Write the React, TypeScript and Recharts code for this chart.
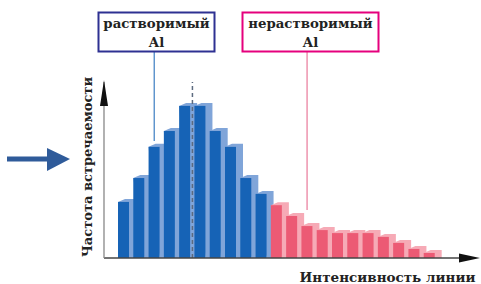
import { BarChart, Bar, XAxis, YAxis, ReferenceLine } from 'recharts';

// intensity bins along the x axis
const bins = ['1', '2', '3', '4', '5', '6', '7', '8', '9', '10', '11', '12', '13', '14', '15', '16', '17', '18', '19', '20', '21'];

// frequency of occurrence, soluble Al (blue) and insoluble Al (pink)
const soluble = [22.3, 31.8, 44.2, 50.5, 60.5, 60.5, 50.5, 44.2, 31.8, 25.5, null, null, null, null, null, null, null, null, null, null, null];
const insoluble = [null, null, null, null, null, null, null, null, null, null, 21, 16.7, 12.7, 11.1, 9.9, 9.9, 9.9, 8.4, 6, 3.6, 2];

const yAxisTitle = 'Частота встречаемости';
const xAxisTitle = 'Интенсивность линии';
const solubleLabel = ['растворимый', 'Al'];
const insolubleLabel = ['нерастворимый', 'Al'];

const data = bins.map((bin, i) => ({ bin, soluble: soluble[i], insoluble: insoluble[i] }));

const SERIF = '"DejaVu Serif", "Liberation Serif", serif';

// bar with a lighter "depth" face behind it
function boxBar(front: string, back: string) {
  return (props: any) => {
    const { x, y, width, height } = props;
    if (!height || height <= 0) return <g />;
    const dx = 7;
    const dy = 3;
    const d = `M${x},${y} L${x + dx},${y - dy} L${x + width + dx},${y - dy} L${x + width + dx},${y + height} L${x + width},${y + height} Z`;
    return (
      <g>
        <path d={d} fill={back} />
        <rect x={x} y={y} width={width} height={height} fill={front} />
      </g>
    );
  };
}

export default function App() {
  return (
    <div style={{ position: 'absolute', left: 0, top: 0, width: 481, height: 284, background: '#fff' }}>
      <BarChart
        width={481}
        height={284}
        data={data}
        margin={{ top: 82, right: 11, bottom: 24, left: 102 }}
        barSize={11}
      >
        <XAxis
          dataKey="bin"
          height={2}
          tick={false}
          tickLine={false}
          axisLine={{ stroke: '#444', strokeWidth: 1.3 }}
          padding={{ left: 12, right: 33 }}
        />
        <YAxis
          width={2}
          domain={[0, 70]}
          tick={false}
          tickLine={false}
          axisLine={{ stroke: '#888', strokeWidth: 1.3 }}
        />
        <Bar dataKey="soluble" stackId="a" shape={boxBar('#1663b6', '#80a5d9')} isAnimationActive={false} />
        <Bar dataKey="insoluble" stackId="a" shape={boxBar('#ec5a74', '#f6aab6')} isAnimationActive={false} />
        <ReferenceLine x="6" position="start" stroke="#5d6b80" strokeDasharray="4 3" strokeWidth={1.5} ifOverflow="visible" />
        <ReferenceLine
          segment={[{ x: '3', y: 46.5 }, { x: '3', y: 81.9 }]}
          stroke="#3b7dc2"
          strokeWidth={1.2}
          ifOverflow="visible"
        />
        <ReferenceLine
          segment={[{ x: '13', y: 19.1 }, { x: '13', y: 81.9 }]}
          stroke="#e9789a"
          strokeWidth={1.2}
          ifOverflow="visible"
        />
      </BarChart>
      <svg
        width={481}
        height={284}
        style={{ position: 'absolute', left: 0, top: 0, pointerEvents: 'none' }}
      >
        {/* axis arrowheads */}
        <polygon points="104,80 100,106 108,106" fill="#111" />
        <polygon points="480,258 459,253.5 459,262.5" fill="#111" />
        {/* pointer arrow on the left */}
        <rect x={7} y={156.5} width={42} height={5} fill="#2f5b9a" />
        <polygon points="47,148 70,159 47,171" fill="#2f5b9a" />
        {/* labelled boxes */}
        <rect x={98.5} y={12.5} width={116} height={39} fill="#fff" stroke="#2e3192" strokeWidth={2} />
        <text x={156.5} y={28} textAnchor="middle" fontFamily={SERIF} fontWeight="bold" fontSize={13.3} fill="#222">
          {solubleLabel[0]}
        </text>
        <text x={156.5} y={47} textAnchor="middle" fontFamily={SERIF} fontWeight="bold" fontSize={13.3} fill="#222">
          {solubleLabel[1]}
        </text>
        <rect x={242.5} y={12.5} width={136} height={39} fill="#fff" stroke="#e5007d" strokeWidth={2} />
        <text x={310.5} y={28} textAnchor="middle" fontFamily={SERIF} fontWeight="bold" fontSize={13.3} fill="#222">
          {insolubleLabel[0]}
        </text>
        <text x={310.5} y={47} textAnchor="middle" fontFamily={SERIF} fontWeight="bold" fontSize={13.3} fill="#222">
          {insolubleLabel[1]}
        </text>
        {/* axis titles */}
        <text
          transform="translate(92,167) rotate(-90)"
          textAnchor="middle"
          fontFamily={SERIF}
          fontWeight="bold"
          fontSize={13}
          fill="#222"
        >
          {yAxisTitle}
        </text>
        <text x={387.5} y={282} textAnchor="middle" fontFamily={SERIF} fontWeight="bold" fontSize={13.5} fill="#222">
          {xAxisTitle}
        </text>
      </svg>
    </div>
  );
}
